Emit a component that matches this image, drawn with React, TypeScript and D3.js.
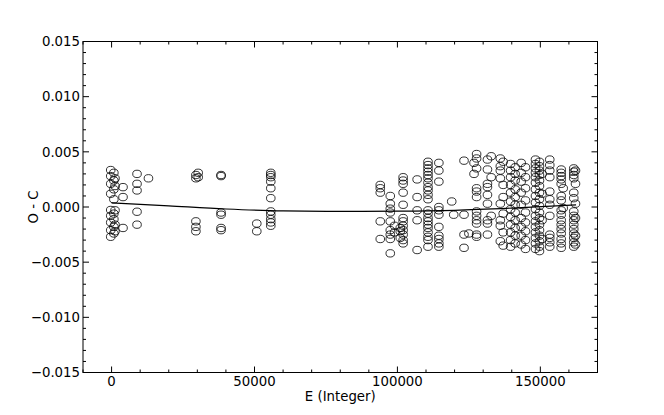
import React from "react";
import * as d3 from "d3";

// Epoch (E) of each cluster of timings and the O - C residuals measured there
const clusterEpochs: number[] = [
  -300, 800, 1200, 4000, 8900, 12900, 29500, 30300, 38300, 50800, 55700,
  94000, 97500, 99000, 101000, 102000, 106900, 110700, 114500, 119000, 119700,
  123300, 125000, 126800, 127700, 131500, 132800, 136000, 137000, 139600, 141200,
  143300, 144800, 148300, 149700, 150600, 153300, 157300, 158000, 161700, 162300,
];

const clusterResiduals: number[][] = [
  [0.00335, 0.0028, 0.0021, 0.0012, -0.00027, -0.0008, -0.0014, -0.0021, -0.0027],
  [0.0031, 0.0024, 0.0016, 0.0007, -0.0006, -0.0011, -0.0018, -0.0024],
  [0.0026, 0.0019, -0.0003, -0.0016, -0.0022],
  [0.0018, 0.0009, -0.0019],
  [0.003, 0.0021, 0.0015, -0.00043, -0.0016],
  [0.0026],
  [0.0029, 0.0026, -0.0013, -0.0018, -0.0022],
  [0.0031, 0.0027],
  [0.0029, 0.0028, -0.0005, -0.0007, -0.0019, -0.0021],
  [-0.0015, -0.0022],
  [0.0031, 0.0029, 0.0027, 0.0023, 0.0017, 0.0008, -0.0004, -0.0007, -0.0011, -0.0014, -0.0017],
  [0.002, 0.0017, 0.0013, -0.0013, -0.0029],
  [0.001, 0.0003, -0.00015, -0.0005, -0.0013, -0.0021, -0.0025, -0.0029, -0.0042],
  [-0.0017, -0.0023],
  [-0.0019, -0.0022, -0.0028],
  [0.0027, 0.0024, 0.0021, 0.0013, 0.0002, -0.001, -0.0013, -0.0017, -0.0021, -0.0025, -0.003, -0.0033],
  [0.0025, 0.0009, -0.0003, -0.0012, -0.0039],
  [0.0041, 0.0038, 0.0035, 0.0032, 0.0029, 0.0026, 0.0022, 0.0018, 0.0015, 0.0011, 0.0007,
    -0.0003, -0.0006, -0.001, -0.0013, -0.0016, -0.0019, -0.0023, -0.0027, -0.003, -0.0036],
  [0.004, 0.0033, 0.0023, 0.0, -0.0003, -0.0007, -0.0018, -0.0026, -0.0029, -0.0033, -0.0036],
  [0.0005],
  [-0.0007],
  [0.0042, -0.0007, -0.0025, -0.0037],
  [-0.0024],
  [0.004, 0.003],
  [0.0048, 0.0044, 0.0035, 0.0017, 0.0014, 0.0009, -0.0004, -0.0008, -0.0012, -0.0015, -0.0025, -0.0027],
  [0.0043, 0.0034, 0.0021, 0.0018, 0.0011, 0.0003, -0.0012, -0.0015, -0.0025],
  [0.0046, 0.0027, -0.0008],
  [0.0044, 0.0037, 0.0033, 0.0026, 0.0003, -0.0012, -0.0017, -0.0031],
  [0.0041, 0.002, 0.0009, -0.0006, -0.0023, -0.0035],
  [0.0039, 0.0033, 0.0027, 0.002, 0.0013, 0.0005, -0.0002, -0.0009, -0.0016, -0.0023, -0.003, -0.0036],
  [0.0036, 0.003, 0.0024, 0.0016, 0.0009, 0.0002, -0.0005, -0.0012, -0.0019, -0.0026, -0.0033],
  [0.004, 0.0031, 0.0023, 0.0013, 0.0002, -0.001, -0.0018, -0.0026, -0.0034],
  [0.0036, 0.0027, 0.0017, 0.0006, -0.0005, -0.0014, -0.0022, -0.003, -0.0038],
  [0.0043, 0.0039, 0.0035, 0.0031, 0.0027, 0.0022, 0.0016, 0.001, 0.0004, -0.0002, -0.0008,
    -0.0013, -0.0018, -0.0023, -0.0028, -0.0033, -0.0038],
  [0.0041, 0.0037, 0.0033, 0.0029, 0.0024, 0.0019, 0.0013, 0.0007, 0.0001, -0.0005, -0.001,
    -0.0016, -0.0021, -0.0026, -0.0031, -0.0036, -0.004],
  [0.003, 0.0012, -0.0012, -0.0029],
  [0.0043, 0.0038, 0.0033, 0.0027, 0.0014, 0.0007, 0.0002, -0.0008, -0.0025, -0.0028, -0.0032, -0.0036],
  [0.0034, 0.0031, 0.0028, 0.0025, 0.0021, 0.001, 0.0006, -0.0003, -0.0007, -0.0012, -0.0016,
    -0.002, -0.0024, -0.0029, -0.0033, -0.0037],
  [0.0017, -0.0001],
  [0.0035, 0.0032, 0.0029, 0.0026, 0.0013, 0.0008, -0.0004, -0.0008, -0.0012, -0.0016, -0.002,
    -0.0024, -0.0028, -0.0032, -0.0036],
  [0.0033, 0.0021, 0.0003, -0.001, -0.0026, -0.0034],
];

// fitted ephemeris curve
const fitEpochs: number[] = [0, 20000, 40000, 60000, 80000, 100000, 120000, 140000, 162500];
const fitValues: number[] = [0.00038, 0.0001, -0.00018, -0.00036, -0.0004, -0.00038, -0.0003, -0.0001, 0.0002];

const xMajorTicks: number[] = [0, 50000, 100000, 150000];
const xTickLabels: string[] = ["0", "50000", "100000", "150000"];
const yMajorTicks: number[] = [0.015, 0.01, 0.005, 0, -0.005, -0.01, -0.015];
const yTickLabels: string[] = ["0.015", "0.010", "0.005", "0.000", "\u22120.005", "\u22120.010", "\u22120.015"];

const xLabel = "E (Integer)";
const yLabel = "O - C";

export default function App() {
  const W = 664, H = 415;
  const left = 83, right = 597.5, top = 41.5, bottom = 372.5;
  const x = d3.scaleLinear().domain([-10000, 170000]).range([left, right]);
  const y = d3.scaleLinear().domain([-0.015, 0.015]).range([bottom, top]);

  const points: [number, number][] = [];
  clusterEpochs.forEach((e, i) => clusterResiduals[i].forEach((v) => points.push([e, v])));

  const xMinor = d3.range(-10000, 170001, 10000).filter((t) => !xMajorTicks.includes(t));
  const yMinor = d3.range(-15, 16, 1).map((v) => v / 1000).filter((t) => Math.abs(Math.round(t * 1000)) % 5 !== 0);

  const line = d3
    .line<number>()
    .x((_, i) => x(fitEpochs[i]))
    .y((d) => y(d))
    .curve(d3.curveMonotoneX);

  const font = "'DejaVu Sans', sans-serif";
  const fs = 13.3;

  return (
    <svg width={W} height={H} style={{ position: "absolute", left: 0, top: 0, background: "#fff" }}>
      <rect x={0} y={0} width={W} height={H} fill="#fff" />
      {/* points */}
      {points.map(([e, v], i) => (
        <ellipse key={i} cx={x(e)} cy={y(v)} rx={4.3} ry={3.7} fill="none" stroke="#000" strokeWidth={0.8} />
      ))}
      {/* fit */}
      <path d={line(fitValues) || ""} fill="none" stroke="#000" strokeWidth={1.2} />
      {/* frame */}
      <rect x={left} y={top} width={right - left} height={bottom - top} fill="none" stroke="#000" strokeWidth={1} />
      {/* x ticks */}
      {xMajorTicks.map((t) => (
        <g key={"xM" + t}>
          <line x1={x(t)} x2={x(t)} y1={bottom} y2={bottom - 6} stroke="#000" />
          <line x1={x(t)} x2={x(t)} y1={top} y2={top + 6} stroke="#000" />
        </g>
      ))}
      {xMinor.map((t) => (
        <g key={"xm" + t}>
          <line x1={x(t)} x2={x(t)} y1={bottom} y2={bottom - 3} stroke="#000" />
          <line x1={x(t)} x2={x(t)} y1={top} y2={top + 3} stroke="#000" />
        </g>
      ))}
      {yMajorTicks.map((t) => (
        <g key={"yM" + t}>
          <line x1={left} x2={left + 6} y1={y(t)} y2={y(t)} stroke="#000" />
          <line x1={right} x2={right - 6} y1={y(t)} y2={y(t)} stroke="#000" />
        </g>
      ))}
      {yMinor.map((t) => (
        <g key={"ym" + t}>
          <line x1={left} x2={left + 3} y1={y(t)} y2={y(t)} stroke="#000" />
          <line x1={right} x2={right - 3} y1={y(t)} y2={y(t)} stroke="#000" />
        </g>
      ))}
      {/* tick labels */}
      {xMajorTicks.map((t, i) => (
        <text key={"xl" + t} x={x(t)} y={386} textAnchor="middle" fontFamily={font} fontSize={fs} fill="#000">
          {xTickLabels[i]}
        </text>
      ))}
      {yMajorTicks.map((t, i) => (
        <text key={"yl" + t} x={80} y={y(t)} dy="0.36em" textAnchor="end" fontFamily={font} fontSize={fs} fill="#000">
          {yTickLabels[i]}
        </text>
      ))}
      <text x={(left + right) / 2} y={401} textAnchor="middle" fontFamily={font} fontSize={fs} fill="#000">
        {xLabel}
      </text>
      <text transform={`translate(38,${(top + bottom) / 2}) rotate(-90)`} textAnchor="middle" fontFamily={font} fontSize={fs} fill="#000">
        {yLabel}
      </text>
    </svg>
  );
}
